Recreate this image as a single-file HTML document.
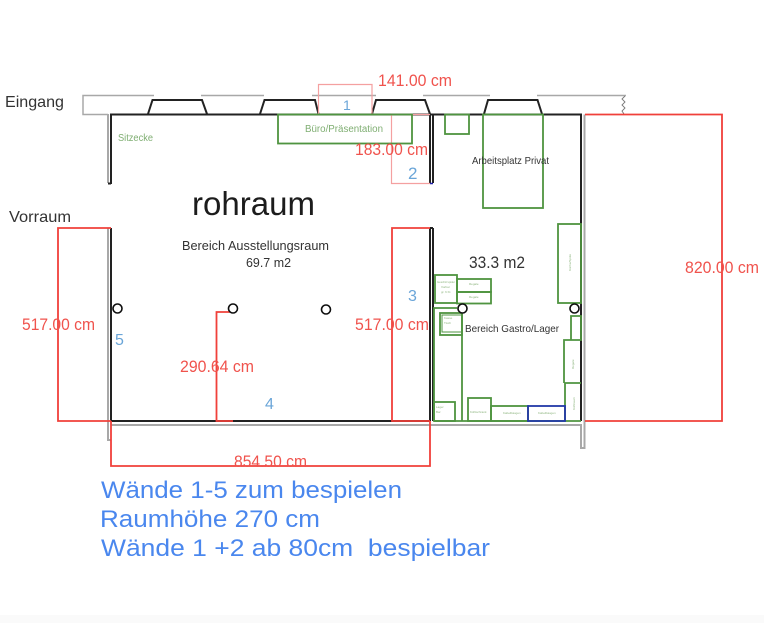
<!DOCTYPE html>
<html><head><meta charset="utf-8">
<style>html,body{margin:0;padding:0;background:#fff}svg{display:block}text{font-family:"Liberation Sans",sans-serif}</style></head>
<body>
<svg width="764" height="623" viewBox="0 0 764 623" xmlns="http://www.w3.org/2000/svg">
<defs><filter id="s" x="-2%" y="-2%" width="104%" height="104%"><feGaussianBlur stdDeviation="0.35"/></filter></defs>
<rect width="764" height="623" fill="#fff"/>
<rect y="615" width="764" height="8" fill="#fafafa"/>
<g filter="url(#s)">
<!-- gray outer walls -->
<g fill="none" stroke="#a8a8a8" stroke-width="1.500">
<path d="M108 114.500H83V95.500H154"/>
<path d="M201 95.500H264M312 95.500H376M423 95.500H490M537 95.500H626"/>
</g>
<g fill="none" stroke="#a8a8a8" stroke-width="2">
<path d="M108 114V183M108 228V440H111"/>
<path d="M111 425H581V448H584.500V114.500"/>
</g>
<path d="M625 96l-3 3 3 3-3 3 3 3-3 3 2 3" fill="none" stroke="#777" stroke-width=".9"/>
<!-- black walls -->
<g fill="none" stroke="#222" stroke-width="2">
<path d="M111 184V114.500H581V421"/>
<path d="M111 228V421H430"/>
<path d="M148 114L152.500 100H202L207 114M260 114L264.500 100H315L318.500 114M372 114L376 100H425L430 114M484 114L488 100H537.500L542 114"/>
<path d="M430 114.500V183M433 114.500V183M430 228V421M433 228H430M433 228V421"/>
<path d="M108 183.500H111"/>
</g>
<path d="M430 183.500H433" stroke="#2222aa" stroke-width="1.500"/>
<!-- pale red -->
<g fill="none" stroke="#f4a0a0" stroke-width="1.200">
<path d="M318.500 114V84.500H372V114"/>
<path d="M430 114.500H391.500V183.500H430"/>
</g>
<!-- red dims -->
<g fill="none" stroke="#f0403a" stroke-width="1.800">
<path d="M585 114.500H722V421H585"/>
<path d="M111 228H58V421H111"/>
<path d="M430 228H392V421H430"/>
<path d="M233 312H216.500V421H233"/>
<path d="M111 421V466H430V421"/>
</g>
<!-- green -->
<g fill="none" stroke="#4f9440" stroke-width="1.800">
<rect x="278" y="114.500" width="134" height="29"/>
<rect x="445" y="114.500" width="24" height="19.500"/>
<rect x="483" y="114.500" width="60" height="93.500"/>
<rect x="558" y="224" width="23" height="79"/>
<rect x="435" y="275" width="22" height="28"/>
<rect x="457" y="279" width="34" height="13"/>
<rect x="457" y="292" width="34" height="11.500"/>
<path d="M457 308H434V421M462 314V421"/>
<rect x="440" y="313" width="22" height="22"/>
<rect x="442" y="315" width="20" height="17" stroke-width="1"/>
<rect x="434" y="402" width="21" height="19"/>
<rect x="468" y="398" width="23" height="23"/>
<rect x="491" y="406" width="37" height="15"/>
<path d="M565 421V383H581M564 383V340H581V316H571V340"/>
<path d="M434 421H581"/>
</g>
<rect x="528" y="406" width="37" height="15" fill="none" stroke="#2438a8" stroke-width="1.800"/>
<!-- columns -->
<g fill="#fff" stroke="#111" stroke-width="1.600">
<circle cx="117.500" cy="308.500" r="4.500"/>
<circle cx="233" cy="308.500" r="4.500"/>
<circle cx="326" cy="309.500" r="4.500"/>
<circle cx="462.500" cy="308.500" r="4.500"/>
<circle cx="574.500" cy="308.500" r="4.500"/>
</g>
</g>
<!-- tiny green labels -->
<g fill="#8db57f" font-size="3">
<text x="437" y="283" textLength="18" lengthAdjust="spacingAndGlyphs">Geschirrspüler</text>
<text x="441" y="288">Vorbar</text>
<text x="441" y="293">gr. 6 Kl.</text>
<text x="469" y="285">Regale</text>
<text x="469" y="298">Regale</text>
<text x="470" y="413">Kühlschrank</text>
<text x="503" y="414">Kabelbäugen</text>
<text x="538" y="414">Kabelbäugen</text>
<text x="444" y="319">Kasse</text>
<text x="444" y="324">Tisch</text>
<text x="436" y="408">Lager</text>
<text x="436" y="413">Bar</text>
<text transform="translate(571 271) rotate(-90)">Küche/Spüle</text>
<text transform="translate(574 369) rotate(-90)">Regale</text>
<text transform="translate(575 410) rotate(-90)">Kühlraum</text>
</g>
<!-- labels -->
<g fill="#333" lengthAdjust="spacingAndGlyphs">
<text x="5" y="107" font-size="16" textLength="59" lengthAdjust="spacingAndGlyphs">Eingang</text>
<text x="9" y="222" font-size="16" textLength="62" lengthAdjust="spacingAndGlyphs">Vorraum</text>
<text x="472" y="164" font-size="10.500" textLength="77" lengthAdjust="spacingAndGlyphs">Arbeitsplatz Privat</text>
<text x="182" y="250" font-size="12.500" textLength="147" lengthAdjust="spacingAndGlyphs">Bereich Ausstellungsraum</text>
<text x="246" y="267" font-size="12.500" textLength="45" lengthAdjust="spacingAndGlyphs">69.7 m2</text>
<text x="469" y="268" font-size="16.500" textLength="56" lengthAdjust="spacingAndGlyphs">33.3 m2</text>
<text x="465" y="332" font-size="10.500" textLength="94" lengthAdjust="spacingAndGlyphs">Bereich Gastro/Lager</text>
</g>
<text x="192" y="215" font-size="33" fill="#1c1c1c" textLength="123" lengthAdjust="spacingAndGlyphs">rohraum</text>
<g fill="#7fae72" font-size="10">
<text x="118" y="141" textLength="35" lengthAdjust="spacingAndGlyphs">Sitzecke</text>
<text x="305" y="132" textLength="78" lengthAdjust="spacingAndGlyphs">Büro/Präsentation</text>
</g>
<g fill="#f0534d" font-size="16.500">
<text x="378" y="86" textLength="74" lengthAdjust="spacingAndGlyphs">141.00 cm</text>
<text x="355" y="155" textLength="73" lengthAdjust="spacingAndGlyphs">183.00 cm</text>
<text x="22" y="330" textLength="73" lengthAdjust="spacingAndGlyphs">517.00 cm</text>
<text x="355" y="330" textLength="74" lengthAdjust="spacingAndGlyphs">517.00 cm</text>
<text x="180" y="372" textLength="74" lengthAdjust="spacingAndGlyphs">290.64 cm</text>
<text x="234" y="467" textLength="73" lengthAdjust="spacingAndGlyphs">854.50 cm</text>
<text x="685" y="273" textLength="74" lengthAdjust="spacingAndGlyphs">820.00 cm</text>
</g>
<g fill="#6aa5d8">
<text x="343" y="110" font-size="14">1</text>
<text x="408" y="179" font-size="17">2</text>
<text x="408" y="301" font-size="16">3</text>
<text x="265" y="409" font-size="16">4</text>
<text x="115" y="345" font-size="16">5</text>
</g>
<g fill="#4a87ee" font-size="24">
<text x="101" y="498" textLength="301" lengthAdjust="spacingAndGlyphs">Wände 1-5 zum bespielen</text>
<text x="100" y="527" textLength="220" lengthAdjust="spacingAndGlyphs">Raumhöhe 270 cm</text>
<text x="101" y="556" textLength="389" lengthAdjust="spacingAndGlyphs" xml:space="preserve">Wände 1 +2 ab 80cm  bespielbar</text>
</g>
</svg>
</body></html>
